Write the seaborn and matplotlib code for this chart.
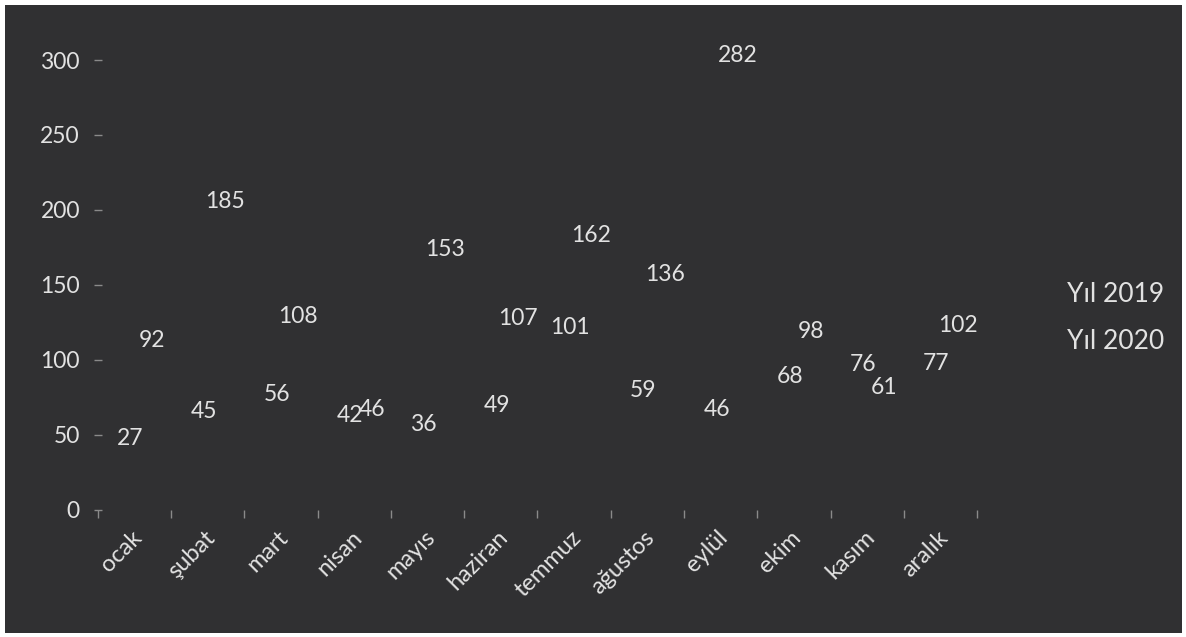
import matplotlib
matplotlib.use('Agg')
import matplotlib.pyplot as plt
import matplotlib.transforms as mtransforms
import pandas as pd
import seaborn as sns
from matplotlib.patches import Rectangle

# Data
months = ['ocak', 'şubat', 'mart', 'nisan', 'mayıs', 'haziran',
          'temmuz', 'ağustos', 'eylül', 'ekim', 'kasım', 'aralık']
yil_2019 = [27, 45, 56, 42, 36, 49, 101, 59, 46, 68, 76, 77]
yil_2020 = [92, 185, 108, 46, 153, 107, 162, 136, 282, 98, 61, 102]
series = ['Yıl 2019', 'Yıl 2020']
y_ticks = [0, 50, 100, 150, 200, 250, 300]

bg = '#303032'
fg = '#e2e2e2'
tick_col = '#8a8a8a'

df = pd.DataFrame({
    'ay': months * 2,
    'deger': yil_2019 + yil_2020,
    'seri': [series[0]] * len(months) + [series[1]] * len(months),
})

sns.set_style('white')
plt.rcParams['font.family'] = ['Lato', 'DejaVu Sans']

fig = plt.figure(figsize=(11.86, 6.37), dpi=100)
fig.patch.set_facecolor('white')
fig.add_artist(Rectangle((0.004, 0.007), 0.993, 0.985, transform=fig.transFigure,
                         facecolor=bg, edgecolor='none', zorder=0))

ax = fig.add_axes([0.0826, 0.1994, 0.7412, 0.7535])
ax.set_facecolor(bg)
ax.patch.set_alpha(0)

# bars are drawn in the background colour, only their labels show
sns.barplot(data=df, x='ay', y='deger', hue='seri', hue_order=series,
            palette=[bg, bg], width=0.58, ax=ax, legend=True,
            edgecolor=bg, linewidth=0)

for cont in ax.containers:
    ax.bar_label(cont, padding=15, color=fg, fontsize=16.5)

# the tick marks sit a little left of the category boundaries in the original
x0 = -0.59
ax.set_xlim(x0, x0 + 12)
ax.set_ylim(0, 320)
ax.set_yticks(y_ticks)
ax.set_xlabel('')
ax.set_ylabel('')
for s in ax.spines.values():
    s.set_visible(False)

ax.tick_params(axis='y', colors=tick_col, labelcolor=fg, labelsize=16.5,
               direction='inout', length=6, width=1, left=True, pad=10)
ax.tick_params(axis='x', which='major', length=0, labelcolor=fg, labelsize=17, pad=12)
ax.set_xticks([x0 + k for k in range(13)], minor=True)
ax.tick_params(axis='x', which='minor', bottom=True, colors=tick_col,
               direction='out', length=6, width=1)
shift = mtransforms.ScaledTranslation(-10 / 100, 0, fig.dpi_scale_trans)
for lbl in ax.get_xticklabels():
    lbl.set_rotation(45)
    lbl.set_ha('right')
    lbl.set_rotation_mode('anchor')
    lbl.set_transform(lbl.get_transform() + shift)

leg = ax.legend(loc='center left', bbox_to_anchor=(0.880, 0.501),
                bbox_transform=fig.transFigure, frameon=False,
                handlelength=0, handletextpad=0, labelspacing=0.85,
                fontsize=19)
for t in leg.get_texts():
    t.set_color(fg)
for h in leg.legend_handles:
    h.set_visible(False)

fig.savefig('out.png', dpi=100, facecolor=fig.get_facecolor())
